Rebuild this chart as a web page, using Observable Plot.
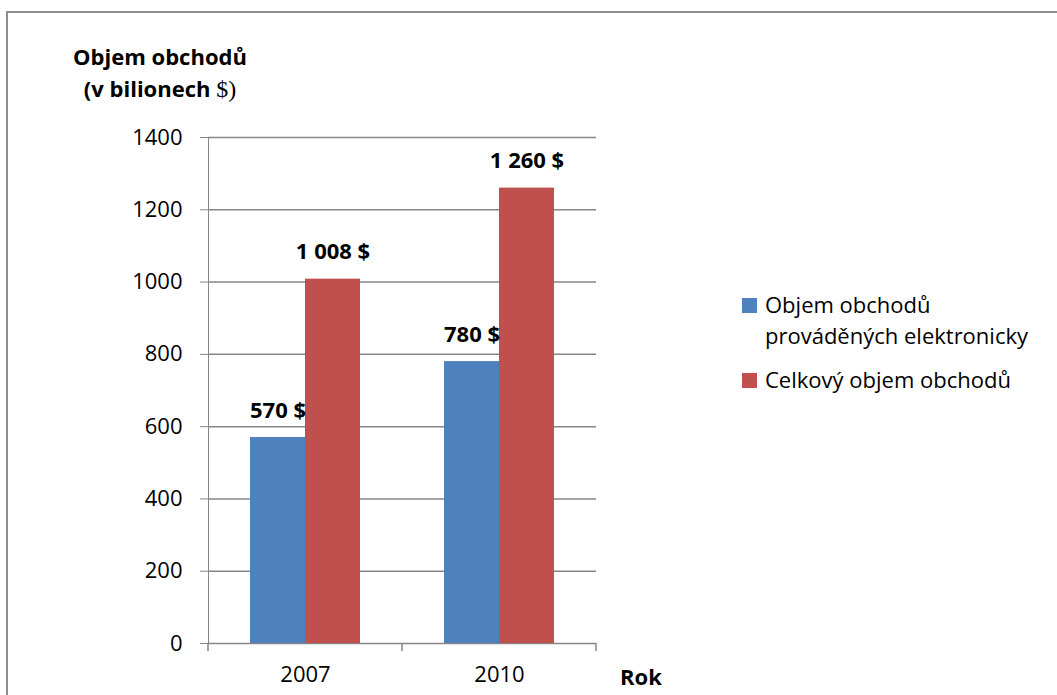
<!DOCTYPE html>
<html><head><meta charset="utf-8">
<script src="https://cdn.jsdelivr.net/npm/d3@7"></script>
<script src="https://cdn.jsdelivr.net/npm/@observablehq/plot@0.6"></script>
<style>
html,body{margin:0;padding:0;background:#fff;overflow:hidden;}
#wrap{position:relative;width:1057px;height:695px;overflow:hidden;}
#border{position:absolute;left:6px;top:11px;width:1200px;height:900px;border:2px solid #8e8e8e;}
#chart{position:absolute;left:0;top:0;}
#chart svg text{fill:#000;}
</style></head>
<body>
<div id="wrap"><div id="border"></div><div id="chart"></div></div>
<script>
const years = ["2007", "2010"];
const seriesNames = ["Objem obchodů prováděných elektronicky", "Celkový objem obchodů"];
const legendLines = [["Objem obchodů", "prováděných elektronicky"], ["Celkový objem obchodů"]];
const electronicValues = [570, 780];
const totalValues = [1008, 1260];
const electronicLabels = ["570 $", "780 $"];
const totalLabels = ["1 008 $", "1 260 $"];
const yTicks = [0, 200, 400, 600, 800, 1000, 1200, 1400];
const seriesColors = ["#4F81BD", "#C0504D"];
const titleLine1 = "Objem obchodů";
const titleLine2 = "(v bilionech ";
const titleLine2b = "$)";
const xTitle = "Rok";

const data = [];
years.forEach((yr, i) => {
  data.push({year: yr, series: seriesNames[0], value: electronicValues[i], label: electronicLabels[i]});
  data.push({year: yr, series: seriesNames[1], value: totalValues[i], label: totalLabels[i]});
});

const gridColor = "#868686";
const chart = Plot.plot({
  width: 1057, height: 695,
  marginLeft: 208, marginRight: 461, marginTop: 137, marginBottom: 52,
  style: {color: gridColor, fontFamily: "'Open Sans', sans-serif", fontSize: "22px", background: "transparent", overflow: "visible"},
  facet: {data: data, x: "year"},
  fx: {domain: years, paddingInner: 0, paddingOuter: 0, label: null, tickSize: 0, tickPadding: 23},
  x: {domain: seriesNames, paddingInner: 0, paddingOuter: 0.74, axis: null},
  y: {domain: [0, 1400], ticks: yTicks, tickSize: 8, tickPadding: 18, label: null, line: true, tickFormat: d => String(d)},
  color: {domain: seriesNames, range: seriesColors},
  marks: [
    Plot.ruleY(yTicks, {stroke: gridColor, strokeWidth: 1.5}),
    Plot.barY(data, {x: "series", y: "value", fill: "series"}),
    Plot.text(data, {x: "series", y: "value", text: "label", dy: -27, fontWeight: "bold", fontSize: 22, fill: "#000"})
  ]
});
document.getElementById("chart").appendChild(chart);

const svg = d3.select(chart);
const fx = chart.scale("fx");
const ys = chart.scale("y");
const y0 = Math.max(...ys.range);
const [r0, r1] = fx.range;
const step = (r1 - r0) / fx.domain.length;
d3.range(fx.domain.length + 1).forEach(i => {
  svg.append("line").attr("x1", r0 + i * step).attr("x2", r0 + i * step)
    .attr("y1", y0).attr("y2", y0 + 8).attr("stroke", gridColor).attr("stroke-width", 1.5);
});

const tg = svg.append("g").attr("font-family", "'Open Sans', sans-serif").attr("font-size", 22);
tg.append("text").attr("x", 160).attr("y", 65).attr("text-anchor", "middle").attr("font-weight", "bold").text(titleLine1);
const t2 = tg.append("text").attr("x", 160).attr("y", 97).attr("text-anchor", "middle").attr("font-weight", "bold");
t2.append("tspan").text(titleLine2);
t2.append("tspan").attr("font-family", "'Liberation Serif', serif").attr("font-weight", "normal").attr("font-size", 24).text(titleLine2b);
tg.append("text").attr("x", 620).attr("y", 685).attr("text-anchor", "start").attr("font-weight", "bold").text(xTitle);

const lg = tg.append("g").attr("text-anchor", "start");
const legendBase = [313, 388];
legendLines.forEach((lines, i) => {
  lg.append("rect").attr("x", 742).attr("y", legendBase[i] - 15).attr("width", 15).attr("height", 15).attr("fill", seriesColors[i]);
  lines.forEach((ln, j) => {
    lg.append("text").attr("x", 765).attr("y", legendBase[i] + j * 31).text(ln);
  });
});
</script>
</body></html>
